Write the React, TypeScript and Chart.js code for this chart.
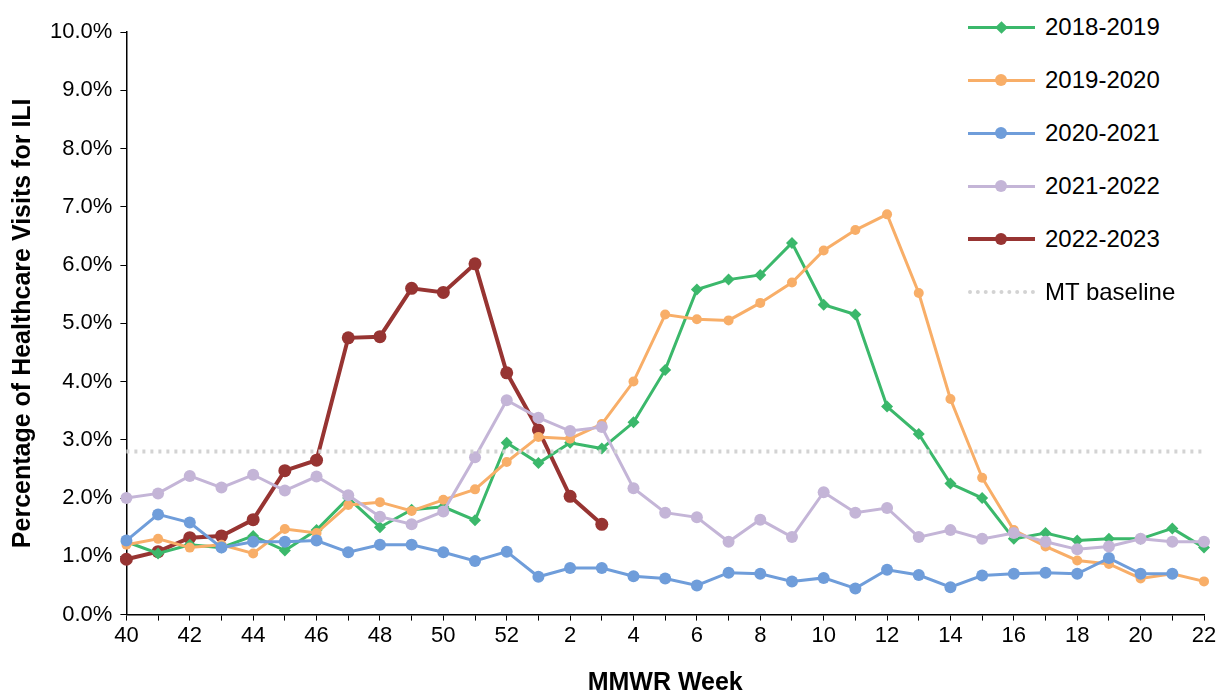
import React, { useEffect, useRef } from 'react';
import Chart from 'chart.js/auto';

const weeks = ['40','41','42','43','44','45','46','47','48','49','50','51','52','1','2','3','4','5','6','7','8','9','10','11','12','13','14','15','16','17','18','19','20','21','22'];

const s1819 = [1.25,1.05,1.2,1.15,1.35,1.1,1.45,2.0,1.5,1.8,1.85,1.62,2.95,2.6,2.95,2.85,3.3,4.2,5.58,5.75,5.83,6.38,5.32,5.15,3.57,3.1,2.25,2.0,1.3,1.4,1.27,1.3,1.3,1.48,1.15];
const s1920 = [1.2,1.3,1.15,1.2,1.05,1.47,1.4,1.88,1.93,1.78,1.97,2.15,2.62,3.05,3.02,3.27,4.0,5.15,5.07,5.05,5.35,5.7,6.25,6.6,6.87,5.52,3.7,2.35,1.45,1.17,0.93,0.87,0.62,0.7,0.57];
const s2021 = [1.27,1.72,1.58,1.15,1.25,1.25,1.27,1.07,1.2,1.2,1.07,0.92,1.08,0.65,0.8,0.8,0.66,0.62,0.5,0.72,0.7,0.57,0.63,0.45,0.77,0.68,0.47,0.67,0.7,0.72,0.7,0.97,0.7,0.7,null];
const s2122 = [2.0,2.08,2.38,2.18,2.4,2.13,2.37,2.05,1.68,1.55,1.77,2.7,3.68,3.38,3.15,3.22,2.17,1.75,1.67,1.25,1.63,1.33,2.1,1.75,1.83,1.33,1.45,1.3,1.4,1.25,1.12,1.17,1.3,1.25,1.25];
const s2223 = [0.95,1.08,1.32,1.35,1.63,2.47,2.65,4.75,4.77,5.6,5.53,6.02,4.15,3.17,2.03,1.55];
const baseline = 2.8;

const GREEN = '#3BB86B';
const ORANGE = '#F8AE68';
const BLUE = '#6F9DDA';
const LAV = '#C4B5D7';
const RED = '#973432';
const GREY = '#D3D3D3';

const legendItems = [
  { label: '2018-2019', color: GREEN, marker: 'diamond', width: 3 },
  { label: '2019-2020', color: ORANGE, marker: 'circle', width: 3 },
  { label: '2020-2021', color: BLUE, marker: 'circle', width: 3 },
  { label: '2021-2022', color: LAV, marker: 'circle', width: 3 },
  { label: '2022-2023', color: RED, marker: 'circle', width: 4 },
  { label: 'MT baseline', color: GREY, marker: 'none', width: 4 },
];

export default function App() {
  const chartRef = useRef<HTMLCanvasElement>(null);
  const chartInstance = useRef<Chart | null>(null);

  useEffect(() => {
    document.body.style.margin = '0';
    if (!chartRef.current) return;
    const ctx = chartRef.current.getContext('2d');
    if (!ctx) return;
    if (chartInstance.current) chartInstance.current.destroy();

    const line = (data: (number | null)[], color: string, style: string, r: number, w: number) => ({
      data,
      borderColor: color,
      backgroundColor: color,
      borderWidth: w,
      pointStyle: style,
      pointRadius: r,
      pointBorderWidth: 0,
      tension: 0,
    });

    chartInstance.current = new Chart(ctx, {
      type: 'line',
      data: {
        labels: weeks,
        datasets: [
          {
            data: weeks.map(() => baseline),
            borderColor: GREY,
            borderWidth: 4,
            borderDash: [3, 5],
            pointRadius: 0,
          },
          line(s2122, LAV, 'circle', 6, 3),
          line(s2021, BLUE, 'circle', 6, 3),
          line(s1920, ORANGE, 'circle', 5, 3),
          line(s1819, GREEN, 'rectRot', 6, 3),
          line(s2223, RED, 'circle', 6.5, 4),
        ] as any,
      },
      options: {
        animation: false,
        responsive: true,
        maintainAspectRatio: false,
        layout: { padding: { left: 4, right: 18, top: 32, bottom: 0 } },
        plugins: { legend: { display: false }, tooltip: { enabled: false } },
        scales: {
          x: {
            offset: false,
            grid: { drawOnChartArea: false, tickLength: 6, color: '#000' },
            border: { color: '#000', width: 1.5 },
            ticks: {
              autoSkip: false,
              maxRotation: 0,
              padding: 2,
              color: '#000',
              font: { family: 'Liberation Sans', size: 22 },
              callback: (_v, i) => (i % 2 === 0 ? weeks[i] : ''),
            },
            title: {
              display: true,
              text: 'MMWR Week',
              color: '#000',
              font: { family: 'Liberation Sans', size: 25, weight: 'bold' },
              padding: { top: 17, bottom: 0 },
            },
          },
          y: {
            min: 0,
            max: 10,
            grid: { drawOnChartArea: false, tickLength: 6, color: '#000' },
            border: { color: '#000', width: 1.5 },
            ticks: {
              stepSize: 1,
              padding: 8,
              color: '#000',
              font: { family: 'Liberation Sans', size: 22 },
              callback: (v) => Number(v).toFixed(1) + '%',
            },
            title: {
              display: true,
              text: 'Percentage of Healthcare Visits for ILI',
              color: '#000',
              font: { family: 'Liberation Sans', size: 25, weight: 'bold' },
              padding: { top: 4, bottom: 4 },
            },
          },
        },
      },
    });

    return () => {
      if (chartInstance.current) chartInstance.current.destroy();
    };
  }, []);

  return (
    <div style={{ position: 'relative', width: 1222, height: 698, background: '#fff', fontFamily: 'Liberation Sans, Arial, sans-serif' }}>
      <canvas ref={chartRef}></canvas>
      {/* legend */}
      {legendItems.map((it, i) => (
        <div key={it.label} style={{ position: 'absolute', left: 968, top: 13 + i * 53, height: 28, display: 'flex', alignItems: 'center', background: '#fff' }}>
          <div style={{ position: 'relative', width: 67, height: 28 }}>
            <div
              style={{
                position: 'absolute',
                left: 0,
                right: 0,
                top: 14 - it.width / 2,
                height: it.marker === 'none' ? 0 : it.width,
                background: it.marker === 'none' ? 'none' : it.color,
                borderTop: it.marker === 'none' ? `${it.width}px dotted ${it.color}` : 'none',
              }}
            />
            {it.marker === 'circle' && (
              <div style={{ position: 'absolute', left: 27, top: 8, width: 12, height: 12, borderRadius: 6, background: it.color }} />
            )}
            {it.marker === 'diamond' && (
              <div style={{ position: 'absolute', left: 29, top: 10, width: 9, height: 9, background: it.color, transform: 'rotate(45deg)' }} />
            )}
          </div>
          <span style={{ marginLeft: 10, fontSize: 24, color: '#000' }}>{it.label}</span>
        </div>
      ))}
    </div>
  );
}
